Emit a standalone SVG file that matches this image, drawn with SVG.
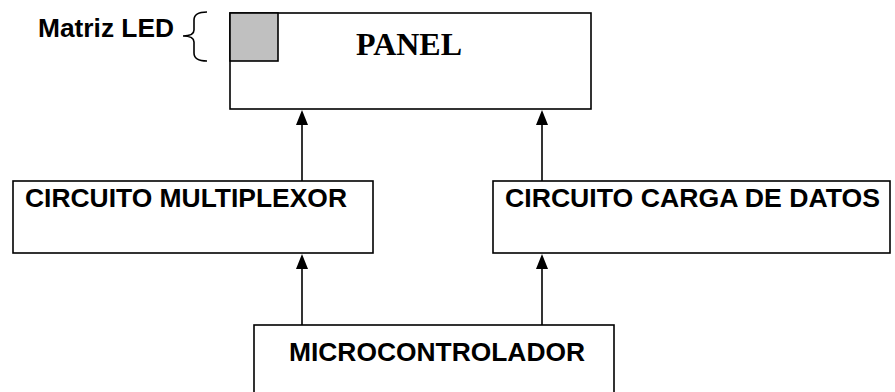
<svg xmlns="http://www.w3.org/2000/svg" width="895" height="392" viewBox="0 0 895 392">
<style>
.box{fill:#fff;stroke:#000;stroke-width:1.6}
.lbl{font-family:"Liberation Sans",Arial,sans-serif;font-weight:bold;font-size:25px;fill:#000}
.ttl{font-family:"Liberation Serif","Times New Roman",serif;font-weight:bold;font-size:32px;fill:#000}
.ln{stroke:#000;stroke-width:1.6;fill:none}
.hd{fill:#000}
</style>
<g id="panel">
<rect class="box" x="230" y="13" width="361" height="96"/>
<rect x="230" y="13" width="48" height="48" fill="#c0c0c0" stroke="#000" stroke-width="1.6"/>
<text class="ttl" x="409" y="55" text-anchor="middle">PANEL</text>
</g>
<g id="matriz-led">
<text class="lbl" x="38" y="37" textLength="136" lengthAdjust="spacingAndGlyphs">Matriz LED</text>
<path class="ln" d="M207,12 Q194,12 194,20 L194,30 Q194,36 183,36 Q194,36 194,42 L194,53 Q194,61 207,61"/>
</g>
<g id="multiplexor">
<rect class="box" x="13" y="181" width="360" height="72"/>
<text class="lbl" x="25" y="207" textLength="322" lengthAdjust="spacingAndGlyphs">CIRCUITO MULTIPLEXOR</text>
</g>
<g id="carga-datos">
<rect class="box" x="493" y="181" width="397" height="72"/>
<text class="lbl" x="505" y="207" textLength="375" lengthAdjust="spacingAndGlyphs">CIRCUITO CARGA DE DATOS</text>
</g>
<g id="microcontrolador">
<rect class="box" x="254" y="325" width="360" height="80"/>
<text class="lbl" x="289" y="361" textLength="296" lengthAdjust="spacingAndGlyphs">MICROCONTROLADOR</text>
</g>
<g id="connectors">
<line class="ln" x1="302" y1="181" x2="302" y2="120"/>
<line class="ln" x1="542" y1="181" x2="542" y2="120"/>
<line class="ln" x1="302" y1="325" x2="302" y2="264"/>
<line class="ln" x1="542" y1="325" x2="542" y2="264"/>
<path class="hd" d="M302,110 L308,125 L296,125 z"/>
<path class="hd" d="M542,110 L548,125 L536,125 z"/>
<path class="hd" d="M302,254 L308,269 L296,269 z"/>
<path class="hd" d="M542,254 L548,269 L536,269 z"/>
</g>
</svg>
